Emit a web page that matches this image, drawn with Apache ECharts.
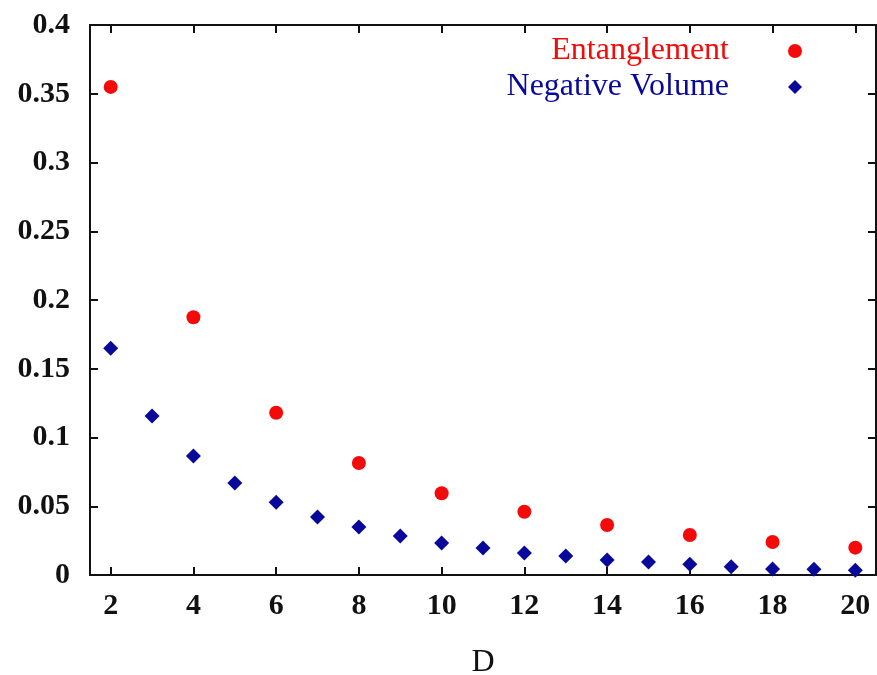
<!DOCTYPE html>
<html>
<head>
<meta charset="utf-8">
<script src="https://cdn.jsdelivr.net/npm/echarts@6/dist/echarts.min.js"></script>
<style>
  html, body { margin: 0; padding: 0; background: #fff; }
  #chart { width: 877px; height: 675px; }
</style>
</head>
<body>
<div id="chart"></div>
<script>
// 数据
const entD = [2, 4, 6, 8, 10, 12, 14, 16, 18, 20];
const entVals = [0.355, 0.1875, 0.118, 0.0815, 0.0595, 0.046, 0.0364, 0.0291, 0.024, 0.0199];
const negD = [2, 3, 4, 5, 6, 7, 8, 9, 10, 11, 12, 13, 14, 15, 16, 17, 18, 19, 20];
const negVals = [0.165, 0.1156, 0.0865, 0.067, 0.053, 0.0422, 0.0349, 0.0284, 0.0233, 0.0196,
  0.016, 0.0138, 0.0109, 0.0095, 0.0078, 0.006, 0.0044, 0.0042, 0.0034];
const xTicks = [2, 4, 6, 8, 10, 12, 14, 16, 18, 20];
const seriesNames = ["Entanglement", "Negative Volume"];

const FONT = "Liberation Serif";
const RED = "#f50a0a";
const BLUE = "#08089a";

let chart = echarts.init(document.getElementById("chart"));

// 刻度样式（四边都有向内的刻度）
function axisBase(show) {
  return {
    axisLine: { show: true, onZero: false, lineStyle: { color: "#111", width: 2 } },
    axisTick: { show: true, inside: true, length: 8, lineStyle: { color: "#111", width: 2 } },
    splitLine: { show: false },
    axisLabel: {
      show: show,
      fontFamily: FONT,
      fontSize: 30,
      fontWeight: "bold",
      color: "#111",
      margin: 20,
      formatter: function (v) { return String(Math.round(v * 1000) / 1000); }
    }
  };
}

let option = {
  backgroundColor: "#fff",
  animation: false,
  grid: { left: 90, right: 1, top: 25, bottom: 100, outerBoundsMode: "none" },
  legend: {
    data: [
      { name: seriesNames[0], textStyle: { color: RED } },
      { name: seriesNames[1], textStyle: { color: BLUE } }
    ],
    orient: "vertical",
    right: 70,
    top: 30,
    align: "right",
    itemGap: 4,
    itemWidth: 14,
    itemHeight: 14,
    textStyle: { fontFamily: FONT, fontSize: 32, padding: [0, 54, 0, 0] }
  },
  xAxis: [
    Object.assign(axisBase(true), {
      type: "value", min: 1.5, max: 20.5,
      name: "D", nameLocation: "middle", nameGap: 72,
      nameTextStyle: { fontFamily: FONT, fontSize: 32, color: "#111" },
      axisLabel: Object.assign(axisBase(true).axisLabel, { margin: 16, customValues: xTicks }),
      axisTick: Object.assign(axisBase(true).axisTick, { customValues: xTicks })
    }),
    Object.assign(axisBase(false), {
      type: "value", min: 1.5, max: 20.5, position: "top",
      axisTick: Object.assign(axisBase(false).axisTick, { customValues: xTicks })
    })
  ],
  yAxis: [
    Object.assign(axisBase(true), { type: "value", min: 0, max: 0.4, interval: 0.05 }),
    Object.assign(axisBase(false), { type: "value", min: 0, max: 0.4, interval: 0.05, position: "right" })
  ],
  series: [
    {
      name: seriesNames[0],
      type: "scatter",
      symbol: "circle",
      symbolSize: 14,
      itemStyle: { color: RED, opacity: 1 },
      data: entD.map(function (d, i) { return [d, entVals[i]]; })
    },
    {
      name: seriesNames[1],
      type: "scatter",
      symbol: "diamond",
      symbolSize: 15,
      itemStyle: { color: BLUE, opacity: 1 },
      data: negD.map(function (d, i) { return [d, negVals[i]]; })
    }
  ]
};

chart.setOption(option);
</script>
</body>
</html>
